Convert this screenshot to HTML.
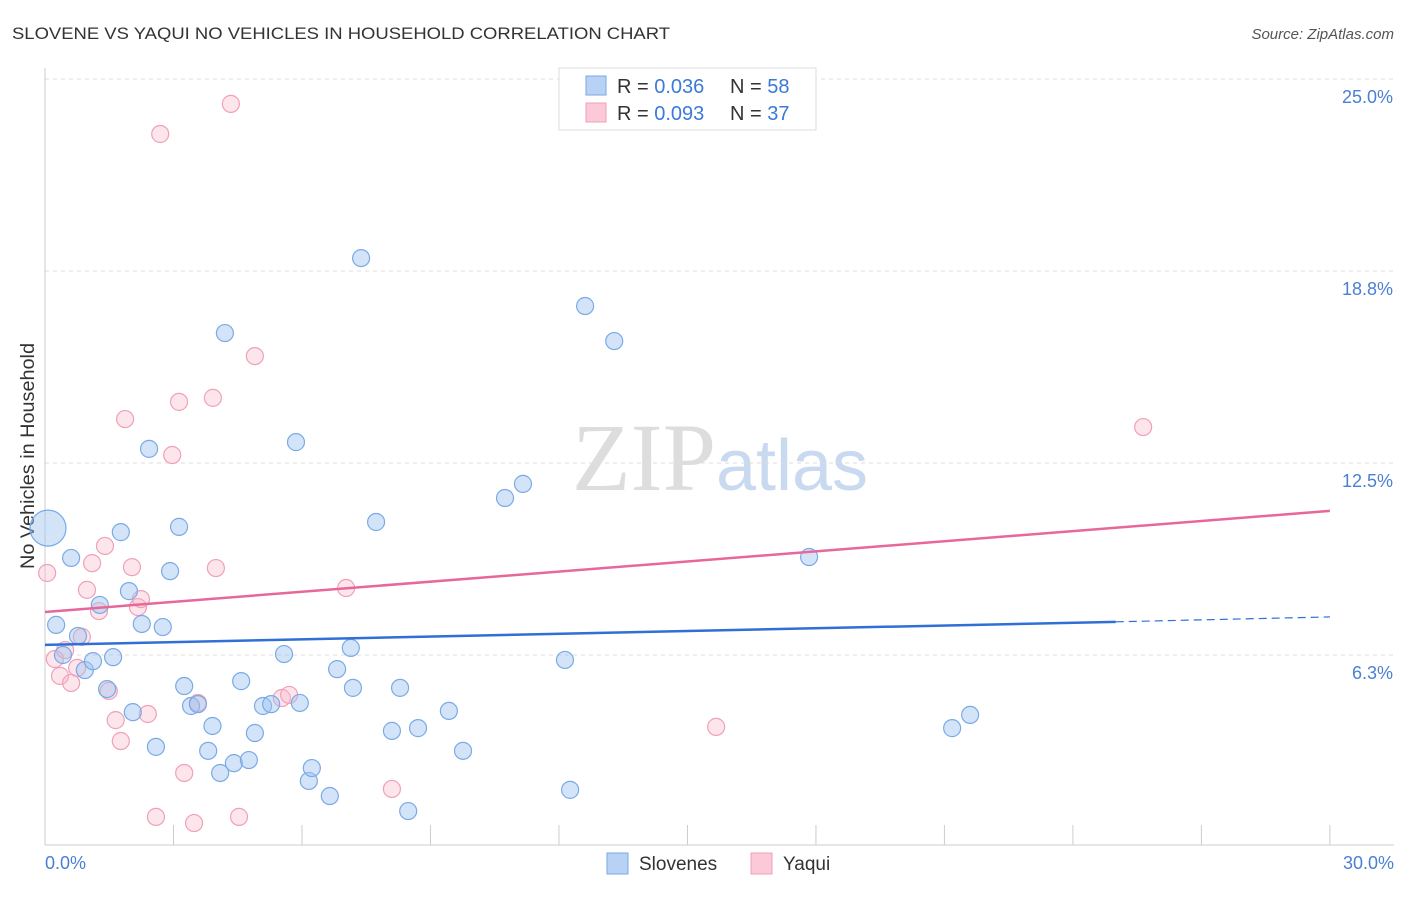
<!DOCTYPE html>
<html><head><meta charset="utf-8"><style>
body{margin:0;background:#fff;font-family:"Liberation Sans",sans-serif;}
</style></head><body>
<svg id="chart" width="1406" height="892" xmlns="http://www.w3.org/2000/svg" font-family="Liberation Sans, sans-serif">
<text x="12" y="39" font-size="17" fill="#333" textLength="658" lengthAdjust="spacingAndGlyphs">SLOVENE VS YAQUI NO VEHICLES IN HOUSEHOLD CORRELATION CHART</text>
<text x="1394" y="39" font-size="15" fill="#555" font-style="italic" text-anchor="end">Source: ZipAtlas.com</text>
<text x="720" y="490" font-size="96" text-anchor="middle" fill="#ddd" font-family="Liberation Serif, serif">ZIP<tspan fill="#c9daf0" font-family="Liberation Sans, sans-serif" font-size="72">atlas</tspan></text>
<g id="grid"></g>
<line x1="45" y1="68" x2="45" y2="845" stroke="#ccc"/>
<line x1="45" y1="845" x2="1394" y2="845" stroke="#ccc"/>
<text transform="translate(34,456) rotate(-90)" font-size="19" fill="#333" text-anchor="middle" textLength="226" lengthAdjust="spacingAndGlyphs">No Vehicles in Household</text>
<text x="45" y="869" font-size="18" fill="#4a7fd4">0.0%</text>
<text x="1394" y="869" font-size="18" fill="#4a7fd4" text-anchor="end">30.0%</text>
<g id="marks"></g>
<g>
<rect x="559" y="68" width="257" height="62" fill="#fff" stroke="#ddd"/>
<rect x="586" y="76" width="20" height="19" fill="#b7d2f5" stroke="#7aaae6"/>
<text x="617" y="93" font-size="20" fill="#333">R = <tspan fill="#3a7ad8">0.036</tspan></text>
<text x="730" y="93" font-size="20" fill="#333">N = <tspan fill="#3a7ad8">58</tspan></text>
<rect x="586" y="103" width="20" height="19" fill="#fbc9d7" stroke="#f0a0b8"/>
<text x="617" y="120" font-size="20" fill="#333">R = <tspan fill="#3a7ad8">0.093</tspan></text>
<text x="730" y="120" font-size="20" fill="#333">N = <tspan fill="#3a7ad8">37</tspan></text>
</g>
<g>
<rect x="607" y="853" width="21" height="21" fill="#b7d2f5" stroke="#7aaae6"/>
<text x="639" y="870" font-size="19" fill="#333">Slovenes</text>
<rect x="751" y="853" width="21" height="21" fill="#fbc9d7" stroke="#f0a0b8"/>
<text x="783" y="870" font-size="19" fill="#333">Yaqui</text>
</g>
</svg>
<script>
const yTicks=[25,18.75,12.5,6.25];
const yTickLabels=["25.0%","18.8%","12.5%","6.3%"];
const xTicks=[0,3,6,9,12,15,18,21,24,27,30];
const blueX=[0.07,0.61,0.26,0.77,0.42,0.93,1.12,1.59,1.28,1.77,1.96,2.26,2.43,2.75,2.92,3.13,1.45,2.05,2.59,3.25,3.41,3.57,3.81,3.91,4.09,4.20,4.41,4.58,4.76,4.90,5.09,5.28,5.58,5.86,5.95,6.16,6.23,6.65,6.82,7.14,7.19,7.38,7.73,8.10,8.29,8.48,8.71,9.43,9.76,10.74,11.16,12.14,12.26,12.61,13.29,17.84,21.18,21.60];
const blueY=[10.38,9.41,7.23,6.87,6.25,5.76,6.05,6.18,7.88,10.25,8.33,7.26,12.96,7.16,8.98,10.42,5.14,4.39,3.26,5.24,4.59,4.65,3.13,3.94,2.41,16.73,2.73,5.40,2.83,3.71,4.59,4.65,6.28,13.18,4.69,2.15,2.57,1.66,5.79,6.48,5.18,19.17,10.58,3.78,5.18,1.17,3.87,4.43,3.13,11.36,11.82,6.09,1.86,17.61,16.47,9.44,3.87,4.30];
const pinkX=[0.05,0.23,0.35,0.47,0.61,0.75,0.86,0.98,1.10,1.26,1.40,1.49,1.65,1.77,1.87,2.03,2.17,2.24,2.40,2.59,2.69,2.97,3.13,3.25,3.48,3.57,3.92,3.99,4.34,4.53,4.90,5.53,5.70,7.03,8.10,15.67,25.64];
const pinkY=[8.92,6.12,5.57,6.41,5.34,5.83,6.84,8.37,9.24,7.68,9.80,5.08,4.13,3.45,13.93,9.11,7.81,8.07,4.33,0.98,23.21,12.76,14.49,2.41,0.78,4.69,14.62,9.08,24.19,0.98,15.98,4.85,4.95,8.43,1.89,3.91,13.67];
const blueTrend=[6.58,7.33,7.49]; // at x=0, 25, 30
const pinkTrend=[7.65,10.94]; // at x=0, 30
const NS="http://www.w3.org/2000/svg";
const X=v=>45+v*42.83, Y=v=>847-v*30.72;
function mk(t,a,p){const e=document.createElementNS(NS,t);for(const k in a)e.setAttribute(k,a[k]);p.appendChild(e);return e;}
const grid=document.getElementById('grid'), marks=document.getElementById('marks');
yTicks.forEach((t,i)=>{
 const l=mk('line',{x1:45,x2:1394,y1:Y(t),y2:Y(t),stroke:'#ddd','stroke-dasharray':'4,4'},grid);
 
 
 const tx=mk('text',{x:1393,y:Y(t)+24,'font-size':18,fill:'#4a7fd4','text-anchor':'end'},grid);
 tx.textContent=yTickLabels[i];
 
 
});
xTicks.forEach(t=>{
 const l=mk('line',{x1:X(t),x2:X(t),y1:825,y2:845,stroke:'#ccc'},grid);
 
 
});
function dots(xs,ys,fill,stroke,name){
 xs.forEach((x,i)=>{
  const c=mk('circle',{cx:X(x),cy:Y(ys[i]),r:(name==='slovene-point'&&i===0)?18:8.5,fill:fill,stroke:stroke,'stroke-width':1.2},marks);
  
  
 });
}
dots(pinkX,pinkY,'rgba(248,180,200,0.35)','#f0a0b8','yaqui-point');
dots(blueX,blueY,'rgba(160,196,240,0.45)','#7aaae6','slovene-point');
let l=mk('line',{x1:X(0),y1:Y(pinkTrend[0]),x2:X(30),y2:Y(pinkTrend[1]),stroke:'#e8679a','stroke-width':2.5},marks);


l=mk('line',{x1:X(0),y1:Y(blueTrend[0]),x2:X(25),y2:Y(blueTrend[1]),stroke:'#2f6fd6','stroke-width':2.5},marks);


l=mk('line',{x1:X(25),y1:Y(blueTrend[1]),x2:X(30),y2:Y(blueTrend[2]),stroke:'#2f6fd6','stroke-width':1.2,'stroke-dasharray':'8,5'},marks);


</script>
</body></html>
